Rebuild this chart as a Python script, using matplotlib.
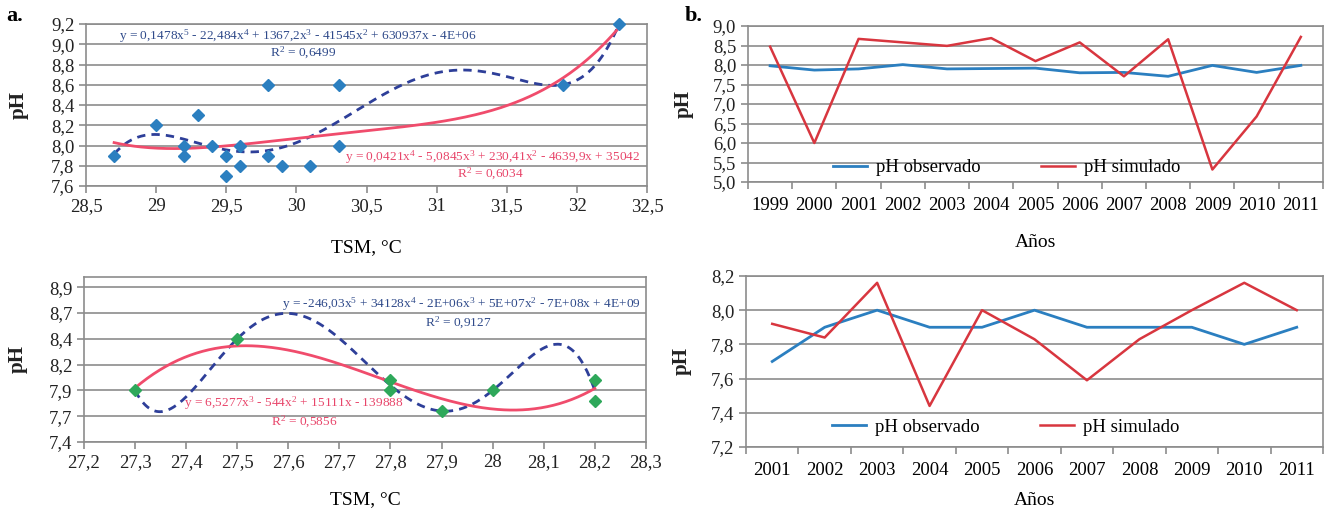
import numpy as np
import matplotlib
matplotlib.use('Agg')
from matplotlib import pyplot as plt

plt.rcParams['font.family'] = ['Liberation Serif', 'DejaVu Serif']
plt.rcParams['mathtext.fontset'] = 'custom'
plt.rcParams['mathtext.rm'] = 'Liberation Serif'

# a. superior: TSM vs pH
tsm_a1 = [28.7, 29.0, 29.2, 29.2, 29.3, 29.4, 29.5, 29.5, 29.6, 29.6, 29.8, 29.8, 29.9, 30.1, 30.3, 30.3, 31.9, 32.3]
ph_a1 = [7.9, 8.2, 8.0, 7.9, 8.3, 8.0, 7.9, 7.7, 8.0, 7.8, 8.6, 7.9, 7.8, 7.8, 8.6, 8.0, 8.6, 9.2]
xt_a1 = [28.5, 29, 29.5, 30, 30.5, 31, 31.5, 32, 32.5]
yt_a1 = [7.6, 7.8, 8.0, 8.2, 8.4, 8.6, 8.8, 9.0, 9.2]

# a. inferior
tsm_a2 = [27.3, 27.5, 27.8, 27.8, 27.9, 28.0, 28.2, 28.2]
ph_a2 = [7.9, 8.4, 8.0, 7.9, 7.7, 7.9, 8.0, 7.8]
xt_a2 = [27.2, 27.3, 27.4, 27.5, 27.6, 27.7, 27.8, 27.9, 28.0, 28.1, 28.2, 28.3]
yt_a2 = [7.4, 7.65, 7.9, 8.15, 8.4, 8.65, 8.9]
yl_a2 = ['7,4', '7,7', '7,9', '8,2', '8,4', '8,7', '8,9']

# b. series anuales
years_b1 = ['1999', '2000', '2001', '2002', '2003', '2004', '2005', '2006', '2007', '2008', '2009', '2010', '2011']
obs_b1 = [7.98, 7.87, 7.9, 8.01, 7.9, 7.91, 7.92, 7.8, 7.81, 7.71, 7.99, 7.81, 7.99]
sim_b1 = [8.47, 6.0, 8.67, 8.58, 8.49, 8.69, 8.1, 8.58, 7.71, 8.66, 5.32, 6.68, 8.72]
yt_b1 = [5.0, 5.5, 6.0, 6.5, 7.0, 7.5, 8.0, 8.5, 9.0]

years_b2 = ['2001', '2002', '2003', '2004', '2005', '2006', '2007', '2008', '2009', '2010', '2011']
obs_b2 = [7.7, 7.9, 8.0, 7.9, 7.9, 8.0, 7.9, 7.9, 7.9, 7.8, 7.9]
sim_b2 = [7.92, 7.84, 8.16, 7.44, 8.0, 7.83, 7.59, 7.83, 8.0, 8.16, 8.0]
yt_b2 = [7.2, 7.4, 7.6, 7.8, 8.0, 8.2]

eq_a1_poly = ('y = 0,1478x$\\mathregular{^5}$ - 22,484x$\\mathregular{^4}$ + 1367,2x$\\mathregular{^3}$'
              ' - 41545x$\\mathregular{^2}$ + 630937x - 4E+06')
r2_a1_poly = 'R$\\mathregular{^2}$ = 0,6499'
eq_a1_quart = ('y = 0,0421x$\\mathregular{^4}$ - 5,0845x$\\mathregular{^3}$ + 230,41x$\\mathregular{^2}$'
               ' - 4639,9x + 35042')
r2_a1_quart = 'R$\\mathregular{^2}$ = 0,6034'
eq_a2_poly = ('y = -246,03x$\\mathregular{^5}$ + 34128x$\\mathregular{^4}$ - 2E+06x$\\mathregular{^3}$'
              ' + 5E+07x$\\mathregular{^2}$ - 7E+08x + 4E+09')
r2_a2_poly = 'R$\\mathregular{^2}$ = 0,9127'
eq_a2_cub = 'y = 6,5277x$\\mathregular{^3}$ - 544x$\\mathregular{^2}$ + 15111x - 139888'
r2_a2_cub = 'R$\\mathregular{^2}$ = 0,5856'

GRID = '#8c8c8c'
BLUE_EQ = '#2f4a8a'
RED_EQ = '#e8456a'
TREND_RED = '#f04c6c'
TREND_BLUE = '#2e3f99'
OBS = '#2b7fc0'
SIM = '#d8363f'
EQ_SIZE = 9.6


def comma(v):
    return ('%g' % v).replace('.', ',')


def style(ax):
    for s in ax.spines.values():
        s.set_color(GRID)
        s.set_linewidth(1.2)
    ax.yaxis.grid(True, color=GRID, lw=1.2)
    ax.set_axisbelow(True)
    ax.tick_params(colors=GRID, labelcolor='#222222', labelsize=13.5, length=5, width=1.2)
    ax.set_ylabel('pH', fontsize=15, fontweight='bold', color='#222222')


def trend(ax, x, y, deg, **kw):
    p = np.polynomial.Polynomial.fit(x, y, deg)
    xx = np.linspace(min(x), max(x), 300)
    ax.plot(xx, p(xx), **kw)


def eq(ax, x, y, s, c):
    ax.text(x, y, s, transform=ax.transAxes, ha='center', va='center', fontsize=EQ_SIZE, color=c)


fig = plt.figure(figsize=(13.26, 5.14), dpi=100)

# --- a. superior
ax1 = fig.add_axes([0.0649, 0.6381, 0.4231, 0.3152])
style(ax1)
trend(ax1, tsm_a1, ph_a1, 5, color=TREND_BLUE, lw=2, ls=(0, (3, 2.2)), zorder=2)
trend(ax1, tsm_a1, ph_a1, 4, color=TREND_RED, lw=2, zorder=3)
ax1.plot(tsm_a1, ph_a1, 'D', color=OBS, ms=6.5, zorder=4, clip_on=False)
ax1.set_xlim(28.5, 32.5)
ax1.set_ylim(7.6, 9.2)
ax1.set_xticks(xt_a1)
ax1.set_xticklabels([comma(v) for v in xt_a1])
ax1.set_yticks(yt_a1)
ax1.set_yticklabels([('%.1f' % v).replace('.', ',') for v in yt_a1])
ax1.set_xlabel('TSM, °C', fontsize=14, fontweight='normal')
ax1.xaxis.set_label_coords(0.5, -0.325)
ax1.yaxis.set_label_coords(-0.103, 0.5)
eq(ax1, 0.378, 0.926, eq_a1_poly, BLUE_EQ)
eq(ax1, 0.387, 0.821, r2_a1_poly, BLUE_EQ)
eq(ax1, 0.725, 0.179, eq_a1_quart, RED_EQ)
eq(ax1, 0.720, 0.074, r2_a1_quart, RED_EQ)
fig.text(0.005, 0.968, 'a.', fontsize=16, fontweight='bold', va='center')

# --- a. inferior
ax2 = fig.add_axes([0.0633, 0.1401, 0.4238, 0.3210])
style(ax2)
trend(ax2, tsm_a2, ph_a2, 5, color=TREND_BLUE, lw=2, ls=(0, (3, 2.2)), zorder=2)
trend(ax2, tsm_a2, ph_a2, 3, color=TREND_RED, lw=2, zorder=3)
ax2.plot(tsm_a2, ph_a2, 'D', color='#2ea85a', ms=6.5, zorder=4)
ax2.set_xlim(27.2, 28.3)
ax2.set_ylim(7.4, 9.0)
ax2.set_xticks(xt_a2)
ax2.set_xticklabels([comma(round(v, 1)) for v in xt_a2])
ax2.set_yticks(yt_a2)
ax2.set_yticklabels(yl_a2)
ax2.set_xlabel('TSM, °C', fontsize=14, fontweight='normal')
ax2.xaxis.set_label_coords(0.5, -0.30)
ax2.yaxis.set_label_coords(-0.100, 0.5)
eq(ax2, 0.671, 0.836, eq_a2_poly, BLUE_EQ)
eq(ax2, 0.667, 0.721, r2_a2_poly, BLUE_EQ)
eq(ax2, 0.374, 0.236, eq_a2_cub, RED_EQ)
eq(ax2, 0.393, 0.121, r2_a2_cub, RED_EQ)


def series(ax, years, obs, sim, yticks, leg_y, pad):
    style(ax)
    n = len(years)
    pos = np.arange(n)
    ax.plot(pos, obs, color=OBS, lw=2, label='pH observado')
    ax.plot(pos, sim, color=SIM, lw=1.8, label='pH simulado')
    ax.set_xlim(-0.5, n - 0.5)
    ax.set_ylim(yticks[0], yticks[-1])
    ax.set_yticks(yticks)
    ax.set_yticklabels([('%.1f' % v).replace('.', ',') for v in yticks])
    # categorías: marcas en los bordes, etiquetas al centro
    ax.set_xticks(np.arange(n + 1) - 0.5)
    ax.set_xticklabels([])
    ax.set_xticks(pos, minor=True)
    ax.set_xticklabels(years, minor=True)
    ax.tick_params(axis='x', which='minor', length=0, labelsize=13.5, pad=11)
    ax.set_xlabel('Años', fontsize=14, fontweight='normal', labelpad=pad)
    ax.legend(loc='lower center', bbox_to_anchor=(0.45, leg_y), ncol=2, frameon=False,
              fontsize=13.5, handlelength=1.8, columnspacing=3.2, handletextpad=0.5,
              borderaxespad=0)


ax3 = fig.add_axes([0.5641, 0.6459, 0.4336, 0.3035])
series(ax3, years_b1, obs_b1, sim_b1, yt_b1, -0.01, 14)
ax3.yaxis.set_label_coords(-0.095, 0.5)
fig.text(0.516, 0.968, 'b.', fontsize=16, fontweight='bold', va='center')

ax4 = fig.add_axes([0.5626, 0.1304, 0.4351, 0.3327])
series(ax4, years_b2, obs_b2, sim_b2, yt_b2, 0.02, 9)
ax4.yaxis.set_label_coords(-0.095, 0.5)

fig.savefig('out.png', dpi=100)
